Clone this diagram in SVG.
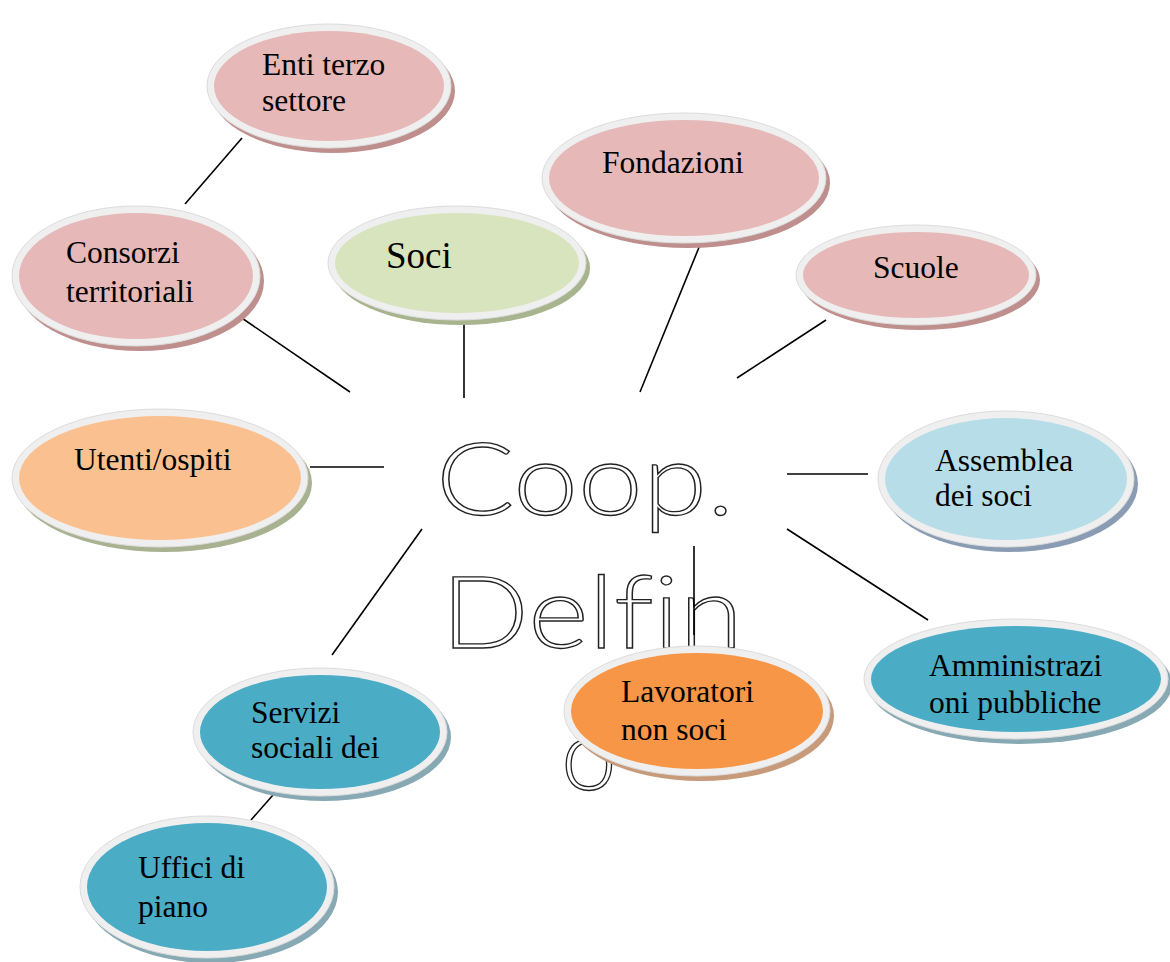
<svg xmlns="http://www.w3.org/2000/svg" width="1170" height="962" viewBox="0 0 1170 962">
<style>
.rim{fill:#efefef;stroke:#dcdcdc;stroke-width:1}
.lbl{font-family:"Liberation Serif","Times New Roman",serif;font-size:31.5px;fill:#000}
.big{font-family:Lato,"Open Sans",sans-serif;font-weight:300;font-size:100px;fill:#fff;stroke:#222;stroke-width:1.3;text-anchor:middle;font-variant-ligatures:none;font-feature-settings:"liga" 0}
.pink{fill:#e6b8b7}.pinksh{fill:#bf8f8e}
.green{fill:#d7e4bd}.greensh{fill:#a7b48e}
.peach{fill:#fac090}.peachsh{fill:#a9b290}
.lblue{fill:#b7dee8}.lbluesh{fill:#8a9cb4}
.teal{fill:#4bacc6}.tealsh{fill:#87a9b3}
.orange{fill:#f79646}.orangesh{fill:#c79a7a}
.conn line{stroke:#000;stroke-width:1.6}
</style>
<rect width="1170" height="962" fill="#fff"/>
<g id="center">
<text class="big" x="585" y="515" textLength="298" lengthAdjust="spacingAndGlyphs">Coop.</text>
<text class="big" x="592" y="648" textLength="302" lengthAdjust="spacingAndGlyphs">Delfin</text>
<text class="big" x="589" y="790">o</text>
</g>
<g class="conn" id="connectors">
<line x1="242" y1="138" x2="185" y2="204"/>
<line x1="233" y1="312" x2="350" y2="392"/>
<line x1="464" y1="312" x2="464" y2="398"/>
<line x1="702" y1="240" x2="640" y2="392"/>
<line x1="826" y1="320" x2="737" y2="378"/>
<line x1="310" y1="467" x2="384" y2="467"/>
<line x1="787" y1="474" x2="868" y2="474"/>
<line x1="787" y1="529" x2="928" y2="620"/>
<line x1="694" y1="546" x2="694" y2="635"/>
<line x1="422" y1="529" x2="332" y2="655"/>
<line x1="273" y1="795" x2="251" y2="820"/>
</g>
<g id="enti">
<ellipse class="pinksh" cx="333" cy="91" rx="122" ry="62"/>
<ellipse class="rim" cx="329" cy="86" rx="122" ry="62"/>
<ellipse class="pink" cx="329" cy="86" rx="115" ry="55"/>
<text class="lbl" x="262" y="75">Enti terzo</text>
<text class="lbl" x="262" y="111">settore</text>
</g>
<g id="fondazioni">
<ellipse class="pinksh" cx="688" cy="183" rx="142" ry="65"/>
<ellipse class="rim" cx="684" cy="178" rx="142" ry="65"/>
<ellipse class="pink" cx="684" cy="178" rx="135" ry="58"/>
<text class="lbl" x="602" y="173">Fondazioni</text>
</g>
<g id="soci">
<ellipse class="greensh" cx="461" cy="268" rx="129" ry="57"/>
<ellipse class="rim" cx="457" cy="263" rx="129" ry="57"/>
<ellipse class="green" cx="457" cy="263" rx="122" ry="50"/>
<text class="lbl" x="386" y="268" style="font-size:37px">Soci</text>
</g>
<g id="consorzi">
<ellipse class="pinksh" cx="140" cy="281" rx="124" ry="70"/>
<ellipse class="rim" cx="136" cy="276" rx="124" ry="70"/>
<ellipse class="pink" cx="136" cy="276" rx="117" ry="63"/>
<text class="lbl" x="66" y="263">Consorzi</text>
<text class="lbl" x="66" y="302">territoriali</text>
</g>
<g id="scuole">
<ellipse class="pinksh" cx="920" cy="280" rx="120" ry="50"/>
<ellipse class="rim" cx="916" cy="275" rx="120" ry="50"/>
<ellipse class="pink" cx="916" cy="275" rx="113" ry="43"/>
<text class="lbl" x="873" y="278">Scuole</text>
</g>
<g id="utenti">
<ellipse class="peachsh" cx="164" cy="483" rx="148" ry="69"/>
<ellipse class="rim" cx="160" cy="478" rx="148" ry="69"/>
<ellipse class="peach" cx="160" cy="478" rx="141" ry="62"/>
<text class="lbl" x="74" y="470">Utenti/ospiti</text>
</g>
<g id="assemblea">
<ellipse class="lbluesh" cx="1010" cy="484" rx="128" ry="68"/>
<ellipse class="rim" cx="1006" cy="479" rx="128" ry="68"/>
<ellipse class="lblue" cx="1006" cy="479" rx="121" ry="61"/>
<text class="lbl" x="935" y="471">Assemblea</text>
<text class="lbl" x="935" y="506">dei soci</text>
</g>
<g id="amministrazioni">
<ellipse class="tealsh" cx="1020" cy="684" rx="152" ry="60"/>
<ellipse class="rim" cx="1016" cy="679" rx="152" ry="60"/>
<ellipse class="teal" cx="1016" cy="679" rx="145" ry="53"/>
<text class="lbl" x="929" y="676">Amministrazi</text>
<text class="lbl" x="929" y="713">oni pubbliche</text>
</g>
<g id="lavoratori">
<ellipse class="orangesh" cx="701" cy="716" rx="133" ry="65"/>
<ellipse class="rim" cx="697" cy="711" rx="133" ry="65"/>
<ellipse class="orange" cx="697" cy="711" rx="126" ry="58"/>
<text class="lbl" x="621" y="702">Lavoratori</text>
<text class="lbl" x="621" y="740">non soci</text>
</g>
<g id="servizi">
<ellipse class="tealsh" cx="324" cy="737" rx="127" ry="64"/>
<ellipse class="rim" cx="320" cy="732" rx="127" ry="64"/>
<ellipse class="teal" cx="320" cy="732" rx="120" ry="57"/>
<text class="lbl" x="251" y="723">Servizi</text>
<text class="lbl" x="251" y="758">sociali dei</text>
</g>
<g id="uffici">
<ellipse class="tealsh" cx="211" cy="892" rx="127" ry="71"/>
<ellipse class="rim" cx="207" cy="887" rx="127" ry="71"/>
<ellipse class="teal" cx="207" cy="887" rx="120" ry="64"/>
<text class="lbl" x="138" y="878">Uffici di</text>
<text class="lbl" x="138" y="917">piano</text>
</g>
</svg>
